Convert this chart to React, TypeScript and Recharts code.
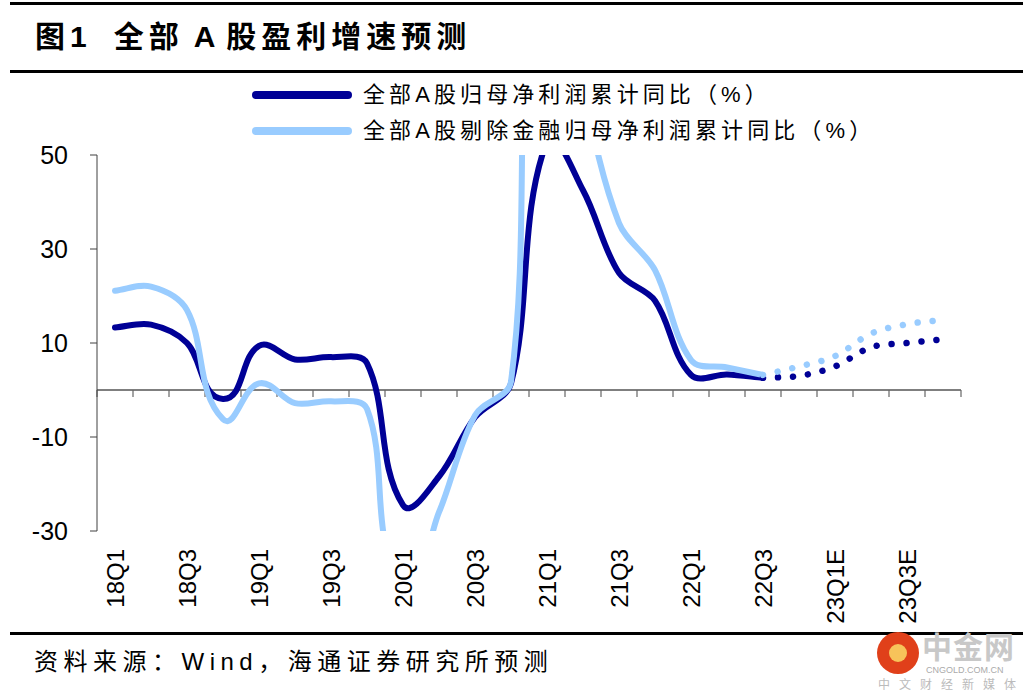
import React from 'react';
import { LineChart, Line, XAxis, YAxis, ReferenceLine } from 'recharts';

// quarters on the x axis (E = forecast)
const QUARTERS = [
  '18Q1', '18Q2', '18Q3', '18Q4', '19Q1', '19Q2', '19Q3', '19Q4',
  '20Q1', '20Q2', '20Q3', '20Q4', '21Q1', '21Q2', '21Q3', '21Q4',
  '22Q1', '22Q2', '22Q3', '22Q4E', '23Q1E', '23Q2E', '23Q3E', '23Q4E',
];
// 全部A股归母净利润累计同比 (actual, through 22Q3)
const ALL_A = [13.3, 13.9, 10.0, -1.9, 9.4, 6.5, 7.0, 5.7, -24.5, -18.4, -5.8, 1.4, 53, 42.5, 24.9, 19.0, 3.2, 3.3, 2.6];
// 全部A股剔除金融归母净利润累计同比 (actual, through 22Q3)
const EX_FIN = [21.1, 22.0, 17.0, -6.2, 1.4, -2.8, -2.4, -4.0, -42, -26, -5.4, 1.8, 110, 65, 35.5, 25.5, 6.4, 4.8, 3.2];
// forecasts, 22Q3 .. 23Q4E
const ALL_A_FC = [2.6, 3.0, 5.0, 9.1, 10.0, 10.8];
const EX_FIN_FC = [3.2, 5.0, 7.2, 12.0, 14.0, 14.9];
const FC_START = 18;

const Y_TICKS = [-30, -10, 10, 30, 50];

const SERIES = [
  { key: 'allA', fc: 'allAFc', name: '全部A股归母净利润累计同比（%）', color: '#000096' },
  { key: 'exFin', fc: 'exFinFc', name: '全部A股剔除金融归母净利润累计同比（%）', color: '#99ccff' },
];

const rows = QUARTERS.map((q, i) => ({
  x: i + 0.5,
  q,
  allA: i < ALL_A.length ? ALL_A[i] : null,
  exFin: i < EX_FIN.length ? EX_FIN[i] : null,
  allAFc: i >= FC_START ? ALL_A_FC[i - FC_START] : null,
  exFinFc: i >= FC_START ? EX_FIN_FC[i - FC_START] : null,
}));

const labelTicks = QUARTERS.map((_, i) => i + 0.5).filter((_, i) => i % 2 === 0);
const boundaries = QUARTERS.map((_, i) => i).concat(QUARTERS.length);

// excel-like smoothed line: bezier handles follow the neighbour direction,
// sized by the length of each segment
function excelCurve(ctx: any) {
  let pts: number[][] = [];
  return {
    areaStart() {},
    areaEnd() {},
    lineStart() {
      pts = [];
    },
    point(x: number, y: number) {
      pts.push([+x, +y]);
    },
    lineEnd() {
      const n = pts.length;
      if (!n) return;
      ctx.moveTo(pts[0][0], pts[0][1]);
      if (n === 1) {
        ctx.lineTo(pts[0][0], pts[0][1]);
        return;
      }
      const tan = pts.map((_, i) => {
        const a = pts[Math.max(0, i - 1)];
        const b = pts[Math.min(n - 1, i + 1)];
        const dx = b[0] - a[0];
        const dy = b[1] - a[1];
        const len = Math.hypot(dx, dy) || 1;
        return [dx / len, dy / len];
      });
      for (let i = 0; i < n - 1; i++) {
        const p = pts[i];
        const q = pts[i + 1];
        const h = Math.hypot(q[0] - p[0], q[1] - p[1]) / 3;
        ctx.bezierCurveTo(
          p[0] + tan[i][0] * h, p[1] + tan[i][1] * h,
          q[0] - tan[i + 1][0] * h, q[1] - tan[i + 1][1] * h,
          q[0], q[1],
        );
      }
    },
  };
}

const XTick = (props: any) => {
  const { x, y, payload } = props;
  const ty = y + 18;
  return (
    <text
      x={x}
      y={ty}
      transform={`rotate(-90 ${x} ${ty})`}
      textAnchor="end"
      dominantBaseline="central"
      fontSize={24}
      fontFamily='"Liberation Sans", Arial, sans-serif'
      fill="#000"
    >
      {QUARTERS[Math.floor(payload.value)]}
    </text>
  );
};

const rule = (top: number, h: number): React.CSSProperties => ({
  position: 'absolute', left: 10, width: 1013, top, height: h, background: '#000',
});

const gap = (w: number) => <span style={{ display: 'inline-block', width: w }} />;

export default function App() {
  return (
    <div
      style={{
        position: 'absolute', left: 0, top: 0, width: 1032, height: 700, background: '#fff',
        fontFamily: '"Liberation Sans", Arial, "Noto Sans CJK SC", sans-serif', color: '#000',
        overflow: 'hidden',
      }}
    >
      <div style={rule(2, 3)} />
      <div
        style={{
          position: 'absolute', left: 35, top: 17, fontSize: 30, fontWeight: 700,
          letterSpacing: 5, whiteSpace: 'pre', lineHeight: '40px',
        }}
      >
        图1{gap(22)}全部{gap(10)}A{gap(6)}股盈利增速预测
      </div>
      <div style={rule(70, 3)} />

      {SERIES.map((s, i) => (
        <div
          key={s.key}
          style={{ position: 'absolute', left: 252, top: 95 + i * 36 - 15, height: 30, display: 'flex', alignItems: 'center' }}
        >
          <div style={{ width: 100, height: 8, borderRadius: 4, background: s.color }} />
          <div style={{ marginLeft: 11, fontSize: 22, letterSpacing: 4.1, whiteSpace: 'pre', lineHeight: '30px' }}>
            {s.name}
          </div>
        </div>
      ))}

      <div style={{ position: 'absolute', left: 0, top: 0 }}>
        <LineChart width={1032} height={700} data={rows} margin={{ top: 155, right: 71, bottom: 69, left: 0 }}>
          <XAxis
            dataKey="x"
            type="number"
            domain={[0, QUARTERS.length]}
            ticks={labelTicks}
            interval={0}
            axisLine={false}
            tickLine={false}
            tickSize={0}
            tickMargin={0}
            height={100}
            tick={<XTick />}
          />
          <YAxis
            type="number"
            domain={[-30, 50]}
            ticks={Y_TICKS}
            allowDataOverflow
            interval={0}
            width={97}
            tickSize={7}
            tickMargin={22}
            axisLine={{ stroke: '#404040' }}
            tickLine={{ stroke: '#404040' }}
            tick={{ fontSize: 25, fill: '#000', fontFamily: '"Liberation Sans", Arial, sans-serif' }}
          />
          <ReferenceLine y={0} stroke="#000" strokeWidth={1.2} />
          {boundaries.map((b) => (
            <ReferenceLine
              key={b}
              segment={[{ x: b, y: 0 }, { x: b, y: -1.5 }]}
              stroke="#666"
              strokeWidth={1.2}
            />
          ))}
          {SERIES.map((s) => (
            <Line
              key={s.key}
              dataKey={s.key}
              type={excelCurve as any}
              stroke={s.color}
              strokeWidth={6}
              dot={false}
              activeDot={false}
              strokeLinecap="round"
              isAnimationActive={false}
            />
          ))}
          {SERIES.map((s) => (
            <Line
              key={s.fc}
              dataKey={s.fc}
              type={excelCurve as any}
              stroke={s.color}
              strokeWidth={6.5}
              strokeDasharray="0.01 15"
              strokeLinecap="round"
              dot={false}
              activeDot={false}
              isAnimationActive={false}
            />
          ))}
        </LineChart>
      </div>

      <div style={rule(632, 3)} />
      <div
        style={{
          position: 'absolute', left: 34, top: 646, fontSize: 24, letterSpacing: 5.5,
          whiteSpace: 'pre', lineHeight: '32px',
        }}
      >
        资料来源：Wind，海通证券研究所预测
      </div>

      {/* watermark */}
      <div style={{ position: 'absolute', left: 877, top: 632, width: 42, height: 42, borderRadius: 21, background: '#e0401a' }}>
        <div style={{ position: 'absolute', left: 12, top: 12, width: 18, height: 18, borderRadius: 9, background: '#f7c35a' }} />
      </div>
      <div style={{ position: 'absolute', left: 922, top: 630, fontSize: 30, fontWeight: 700, color: '#c8c8c8', lineHeight: '36px', letterSpacing: 1 }}>
        中金网
      </div>
      <div style={{ position: 'absolute', left: 926, top: 664, fontSize: 9, color: '#aaa', lineHeight: '12px' }}>CNGOLD.COM.CN</div>
      <div style={{ position: 'absolute', left: 878, top: 677, fontSize: 12, color: '#bbb', lineHeight: '16px', letterSpacing: 9 }}>
        中文财经新媒体
      </div>
    </div>
  );
}
